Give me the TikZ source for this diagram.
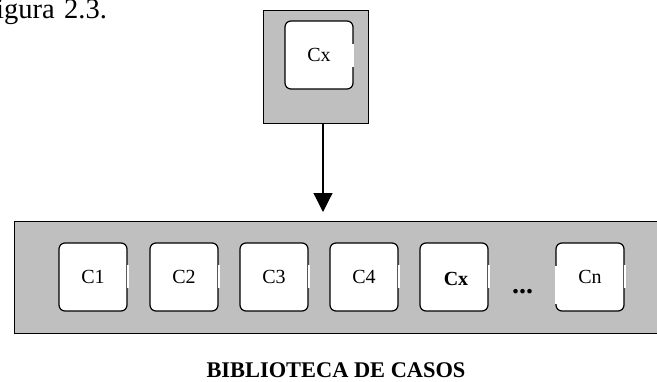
\documentclass[tikz,border=0pt]{standalone}
\usepackage{fontspec}
\setmainfont{Liberation Serif}
\usetikzlibrary{arrows.meta}
\tikzset{
  panel/.style={draw=black,fill=black!25,line width=1.2pt,inner sep=0pt},
  casebox/.style={draw=black,fill=white,line width=1.2pt,rounded corners=6pt,minimum width=68pt,minimum height=68pt,inner sep=0pt,font=\fontsize{20}{22}\selectfont},
  gapmark/.style={fill=white,inner sep=0pt,minimum width=2.2pt,minimum height=23pt},
  flow/.style={draw=black,line width=1.2pt,-{Triangle[length=19pt,width=19pt]}},
  txt/.style={inner sep=0pt,text=black}
}
\begin{document}
\begin{tikzpicture}[x=1pt,y=-1pt]
\useasboundingbox (0,0) rectangle (657,381);
\begin{scope}
\clip (0,0) rectangle (657,381);
\node[panel,anchor=north west,minimum width=105pt,minimum height=113pt] (top) at (263,10) {};
\node[casebox] (cxtop) at (319,55) {Cx};
\node[gapmark] (gt) at (353,55.5) {};
\node[panel,anchor=north west,minimum width=660pt,minimum height=112pt] (lib) at (14,221) {};
\node[casebox] (c1) at (93,277) {C1};
\node[casebox] (c2) at (184,277) {C2};
\node[casebox] (c3) at (274,277) {C3};
\node[casebox] (c4) at (364,277) {C4};
\node[casebox] (cx) at (454,277) {};
\node[casebox] (cn) at (590,277) {Cn};
\foreach \n in {c1,c2,c3,c4,cx,cn}{\node[gapmark] at ([yshift=0.5pt]\n.east) {};}
\fill[white] (555,266) rectangle (557.2,304);
\node[txt,font=\fontsize{20}{22}\selectfont\bfseries] (cxlabel) at (456,278.5) {Cx};
\node[txt,font=\fontsize{28}{30}\selectfont\bfseries] (dots) at (522.5,291.5) {...};
\node[txt,font=\fontsize{22.4}{24}\selectfont\bfseries] (title) at (336,370.5) {BIBLIOTECA DE CASOS};
\node[txt,anchor=base west,font=\fontsize{28.5}{30}\selectfont] (fig) at (-4,18) {\spaceskip=9.4pt igura 2.3.};
\coordinate (tip) at (323,212);
\draw[flow] (top.south -| tip) -- (tip);
\end{scope}
\end{tikzpicture}
\end{document}
